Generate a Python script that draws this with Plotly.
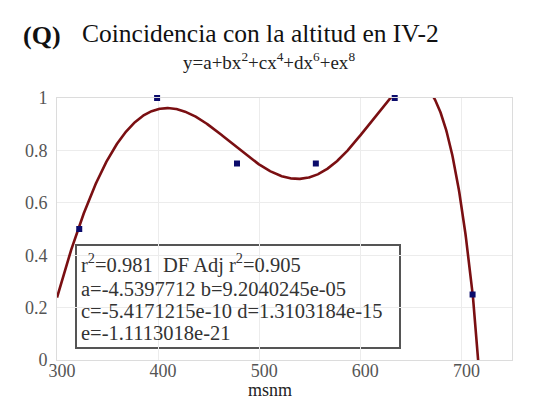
import numpy as np
import plotly.graph_objects as go

# Observed data (altitude, coincidence)
alt = [322, 399, 478, 556, 634, 711]
coinc = [0.5, 1.0, 0.75, 0.75, 1.0, 0.25]

# Fitted model coefficients shown on the chart: y = a + b x^2 + c x^4 + d x^6 + e x^8
coef_names = ["a", "b", "c", "d", "e"]
coef_vals = [-4.5397712, 9.2040245e-05, -5.4171215e-10, 1.3103184e-15, -1.1113018e-21]
coef_pows = [0, 2, 4, 6, 8]

x_ticks = [300, 400, 500, 600, 700]
y_ticks = [0, 0.2, 0.4, 0.6, 0.8, 1]
y_tick_text = ["0", "0.2", "0.4", "0.6", "0.8", "1"]

xs = np.linspace(300, 750, 900)
ys = sum(c * xs ** p for c, p in zip(coef_vals, coef_pows))

SERIF = "Liberation Serif, Times New Roman, serif"

fig = go.Figure()
fig.add_trace(go.Scatter(x=xs, y=ys, mode="lines",
                         line=dict(color="#7a0f12", width=2.6),
                         hoverinfo="skip", showlegend=False))
fig.add_trace(go.Scatter(x=alt, y=coinc, mode="markers",
                         marker=dict(symbol="square", size=6, color="#0b0b6b"),
                         cliponaxis=False, showlegend=False))

# Plot area in pixels: x 57..512, y 98..360
L, R, T, B = 57, 512, 98, 360
def px(x):
    return (x - L) / (R - L)
def py(y):
    return (B - y) / (B - T)

ann = []
ann.append(dict(text="<b>(Q)</b>", x=px(21), y=py(36), xref="paper", yref="paper",
                xanchor="left", yanchor="middle", showarrow=False,
                font=dict(family=SERIF, size=26, color="#111")))
ann.append(dict(text="Coincidencia con la altitud en IV-2", x=px(80), y=py(33),
                xref="paper", yref="paper", xanchor="left", yanchor="middle",
                showarrow=False, font=dict(family=SERIF, size=25.5, color="#111")))
ann.append(dict(text="y=a+bx<sup>2</sup>+cx<sup>4</sup>+dx<sup>6</sup>+ex<sup>8</sup>",
                x=px(269), y=py(61), xref="paper", yref="paper",
                xanchor="center", yanchor="middle", showarrow=False,
                font=dict(family=SERIF, size=19, color="#222")))
ann.append(dict(text="msnm", x=px(270), y=py(390), xref="paper", yref="paper",
                xanchor="center", yanchor="middle", showarrow=False,
                font=dict(family=SERIF, size=18, color="#222")))

def sci(v):
    s = f"{v:.7e}"
    m, e = s.split("e")
    ei = int(e)
    return f"{m}e-{abs(ei):02d}" if ei < 0 else f"{m}e+{ei:02d}"

vals = dict(zip(coef_names, coef_vals))
lines_txt = [
    "r<sup>2</sup>=0.981  DF Adj r<sup>2</sup>=0.905",
    f"a={vals['a']:.7f} b={sci(vals['b'])}",
    f"c={sci(vals['c'])} d={sci(vals['d'])}",
    f"e={sci(vals['e'])}",
]
line_y = [263, 289, 311, 333]
for t, yy in zip(lines_txt, line_y):
    ann.append(dict(text=t, x=px(79), y=py(yy), xref="paper", yref="paper",
                    xanchor="left", yanchor="middle", showarrow=False,
                    font=dict(family=SERIF, size=20.5, color="#333")))

fig.update_layout(
    width=542, height=400,
    margin=dict(l=L, r=542 - R, t=T, b=400 - B),
    paper_bgcolor="white", plot_bgcolor="white",
    showlegend=False,
    annotations=ann,
    shapes=[dict(type="rect", xref="paper", yref="paper",
                 x0=px(76), x1=px(400), y0=py(348), y1=py(245),
                 line=dict(color="#555", width=2), fillcolor="white", layer="below")],
    xaxis=dict(range=[300, 750], tickvals=x_ticks, ticktext=[str(v) for v in x_ticks],
               showgrid=True, gridcolor="#ececec", gridwidth=1,
               showline=True, linecolor="#dcdcdc", mirror=True, zeroline=False,
               ticks="", ticklabelstandoff=-6, ticklabelshift=5,
               tickfont=dict(family=SERIF, size=18, color="#555")),
    yaxis=dict(range=[0, 1], tickvals=y_ticks, ticktext=y_tick_text,
               showgrid=True, gridcolor="#ececec", gridwidth=1,
               showline=True, linecolor="#dcdcdc", mirror=True, zeroline=False,
               ticks="", ticklabelstandoff=5,
               tickfont=dict(family=SERIF, size=18, color="#555")),
)

fig.write_html("out.html")
